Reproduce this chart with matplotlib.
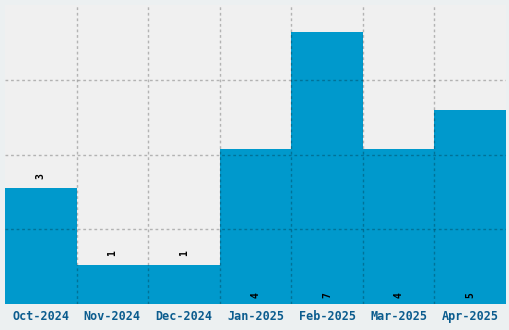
import matplotlib
matplotlib.use("Agg")
import matplotlib.pyplot as plt
import numpy as np

months = ["Oct-2024", "Nov-2024", "Dec-2024", "Jan-2025", "Feb-2025", "Mar-2025", "Apr-2025"]
counts = [3, 1, 1, 4, 7, 4, 5]

BAR = "#0099CC"
TICK = "#0B5C8E"

fig = plt.figure(figsize=(5.1, 3.3), dpi=100, facecolor="#ECF0F1")
ax = fig.add_axes([5 / 510, 26 / 330, 501 / 510, 299 / 330])
ax.set_facecolor("#F0F0F0")

x = np.arange(len(months))
ax.bar(x, counts, width=1.0, color=BAR, zorder=1)

ymax = max(counts) * 1.1
ax.set_xlim(-0.5, len(months) - 0.5)
ax.set_ylim(0, ymax)

ax.set_xticks(x)
ax.set_xticklabels(months, family="DejaVu Sans Mono", fontweight="bold",
                   fontsize=8.5, color=TICK)
ax.set_yticks([])
ax.tick_params(axis="both", which="both", length=0)
ax.tick_params(axis="x", pad=4)

# grid on bar edges and 4 equal rows, drawn above the bars
for xv in np.arange(0.5, len(months) - 0.5, 1.0):
    ax.axvline(xv, color="black", alpha=0.25, lw=1, ls=(0, (2, 2)), zorder=3)
for yv in np.linspace(0, ymax, 5)[1:-1]:
    ax.axhline(yv, color="black", alpha=0.25, lw=1, ls=(0, (2, 2)), zorder=3)

for s in ax.spines.values():
    s.set_visible(False)

for xi, v in zip(x, counts):
    ypos = v + 0.3 if v <= 3 else 0.22
    ax.text(xi, ypos, str(v), rotation=90, ha="center", va="center",
            family="DejaVu Sans Mono", fontweight="bold", fontsize=7, color="black", zorder=4)

fig.savefig("out.png", dpi=100, facecolor=fig.get_facecolor())
